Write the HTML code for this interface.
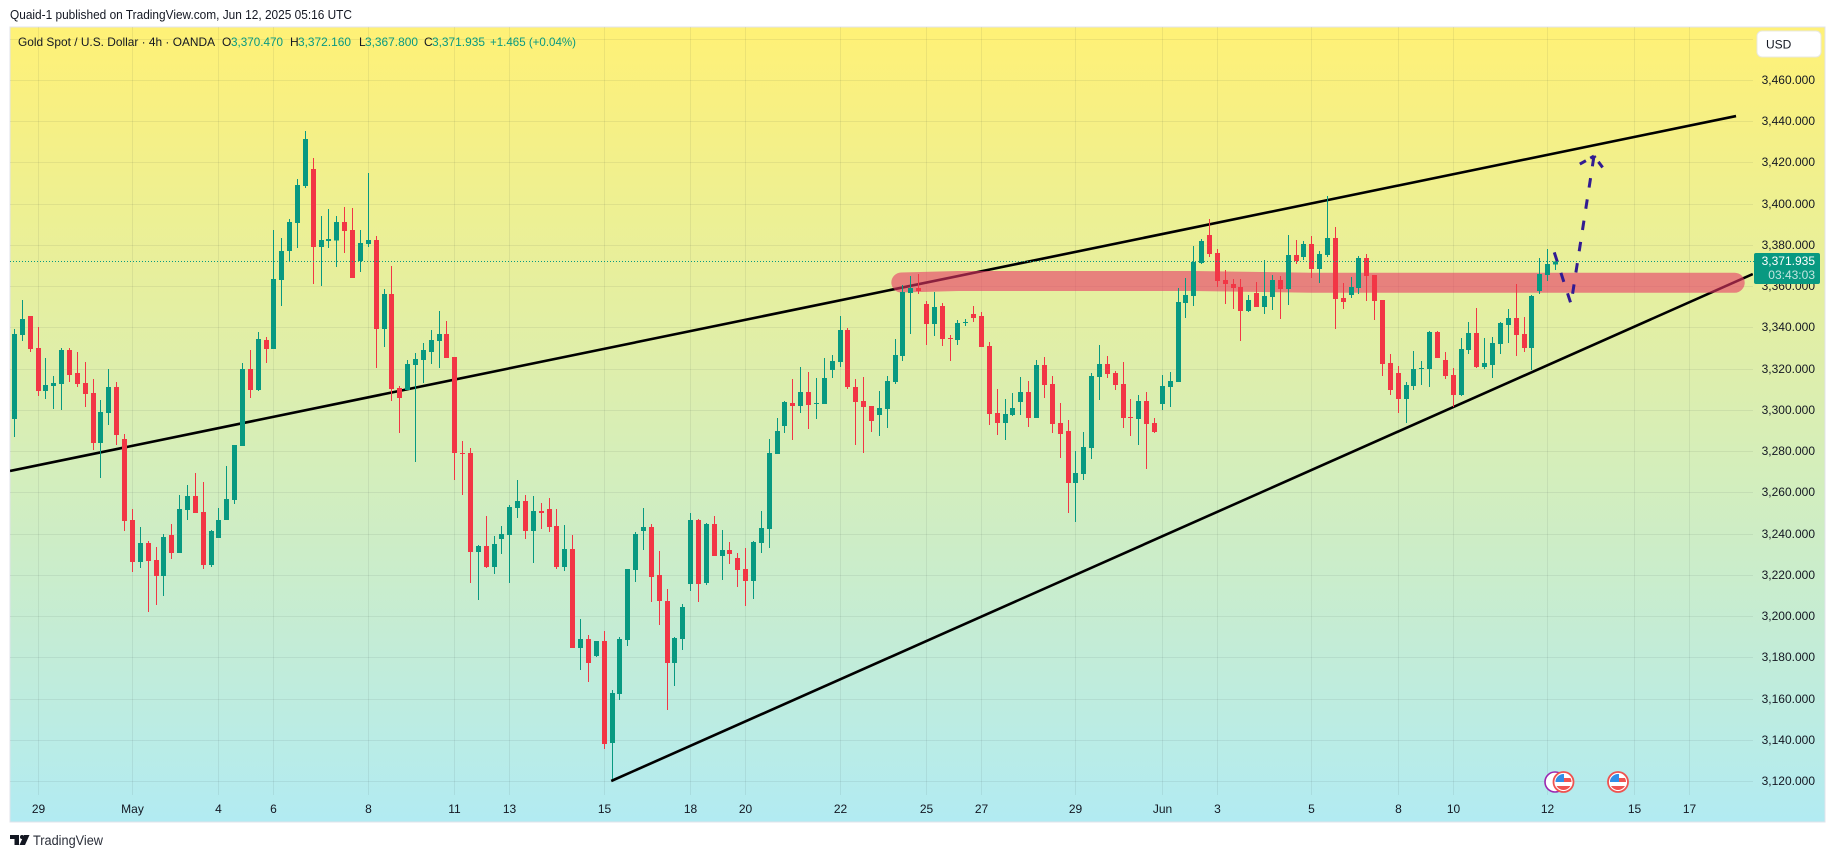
<!DOCTYPE html>
<html lang="en">
<head>
<meta charset="utf-8">
<title>Gold Spot / U.S. Dollar 4h chart</title>
<style>
  html, body { margin: 0; padding: 0; background: #ffffff; width: 1835px; height: 858px; overflow: hidden; }
  svg { display: block; font-family: "Liberation Sans", sans-serif; }
  text { font-family: "Liberation Sans", sans-serif; }
</style>
</head>
<body>
<svg id="chart" xmlns="http://www.w3.org/2000/svg" width="1835" height="858" viewBox="0 0 1835 858">
  <defs>
    <linearGradient id="paneGradient" x1="0" y1="0" x2="0" y2="1">
      <stop offset="0" stop-color="#FFF176"></stop>
      <stop offset="1" stop-color="#B2EBF2"></stop>
    </linearGradient>
    <clipPath id="plotClip"><rect x="10" y="27" width="1743" height="768"></rect></clipPath>
    <clipPath id="flagClipA"><circle cx="1563.5" cy="782" r="8"></circle></clipPath>
    <clipPath id="flagClipB"><circle cx="1618" cy="782" r="8"></circle></clipPath>
  </defs>

  <text x="10" y="19" font-size="12.5" fill="#131722" textLength="342" lengthAdjust="spacingAndGlyphs">Quaid-1 published on TradingView.com, Jun 12, 2025 05:16 UTC</text>

  <rect x="10" y="27" width="1815" height="795" fill="url(#paneGradient)" stroke="#e0e3eb" stroke-width="1"></rect>

  <g id="gridLayer"></g>
  <g id="drawLayer" clip-path="url(#plotClip)"></g>
  <g id="candleLayer" shape-rendering="crispEdges"></g>
  <g id="lastLayer"></g>
  <g id="timeLayer"></g>
  <g id="priceLayer"></g>

  <g font-size="12">
    <text x="18" y="46" fill="#131722" textLength="197" lengthAdjust="spacingAndGlyphs">Gold Spot / U.S. Dollar · 4h · OANDA</text>
    <text x="222" y="46" fill="#131722">O</text>
    <text x="231" y="46" fill="#089981" textLength="52" lengthAdjust="spacingAndGlyphs">3,370.470</text>
    <text x="290" y="46" fill="#131722">H</text>
    <text x="298" y="46" fill="#089981" textLength="53" lengthAdjust="spacingAndGlyphs">3,372.160</text>
    <text x="359" y="46" fill="#131722">L</text>
    <text x="365" y="46" fill="#089981" textLength="53" lengthAdjust="spacingAndGlyphs">3,367.800</text>
    <text x="424" y="46" fill="#131722">C</text>
    <text x="432" y="46" fill="#089981" textLength="53" lengthAdjust="spacingAndGlyphs">3,371.935</text>
    <text x="490" y="46" fill="#089981" textLength="86" lengthAdjust="spacingAndGlyphs">+1.465 (+0.04%)</text>
  </g>

  <g>
    <rect x="1757" y="31" width="64" height="26" rx="5" fill="#ffffff" stroke="#e8e8e0" stroke-width="1"></rect>
    <text x="1766" y="48.5" font-size="12" fill="#131722">USD</text>
  </g>

  <g>
    <circle cx="1555" cy="782" r="10" fill="#ffffff" stroke="#9c27b0" stroke-width="1.6"></circle>
    <g>
      <circle cx="1563.5" cy="782" r="10" fill="#ffffff" stroke="#ef5350" stroke-width="1.8"></circle>
      <g clip-path="url(#flagClipA)">
        <rect x="1555" y="778" width="17" height="4" fill="#ef5350"></rect>
        <rect x="1555" y="786" width="17" height="4" fill="#ef5350"></rect>
        <rect x="1555" y="774" width="9" height="8" fill="#2f8fe8"></rect>
      </g>
    </g>
    <g>
      <circle cx="1618" cy="782" r="10" fill="#ffffff" stroke="#ef5350" stroke-width="1.8"></circle>
      <g clip-path="url(#flagClipB)">
        <rect x="1609" y="778" width="18" height="4" fill="#ef5350"></rect>
        <rect x="1609" y="786" width="18" height="4" fill="#ef5350"></rect>
        <rect x="1609" y="774" width="10" height="8" fill="#2f8fe8"></rect>
      </g>
    </g>
  </g>

  <g>
    <path d="M10 835H19V845H14.5V839H10Z M19.5 845L24 835H29.5L25 845Z" fill="#131722"></path>
    <circle cx="22" cy="837" r="2" fill="#131722"></circle>
    <text x="33" y="845" font-size="13.5" fill="#2a2e39" textLength="70" lengthAdjust="spacingAndGlyphs">TradingView</text>
  </g>
</svg>

<script>
const opens = [
3295.5,3336.2,3345.4,3329.9,3309.1,3311.5,3312.5,3329,3317.8,3313,
3308.1,3283.9,3298.4,3311,3285.8,3246.5,3226.2,3235.4,3227.2,3219.4,
3239.3,3230.5,3251.4,3258.2,3250.4,3224.7,3237.8,3246.5,3256.2,3282.4,
3319.8,3309.6,3333.8,3329.4,3362.9,3376.9,3390.5,3408.4,3416.7,3378.9,
3381.8,3382.2,3391,3387.1,3372.1,3380.3,3382.2,3339.1,3356.1,3310.5,
3309.6,3321.7,3324.1,3328,3333.3,3336.7,3325.6,3279,3279,3231,
3233.9,3223.7,3237.3,3239.2,3252.3,3255.7,3241.2,3250.9,3251.8,3243.6,
3223.7,3232.4,3184.5,3188.8,3180.6,3187.8,3138.4,3162.2,3188.3,3222.3,
3241.2,3243.1,3219.8,3207.2,3177.2,3188.8,3215.5,3246.5,3216,3244.6,
3229.1,3232,3228.1,3222.8,3216.9,3235.4,3242.2,3278.6,3292.1,3303.3,
3301.8,3308.6,3302.8,3302.8,3319.3,3323.2,3338.7,3311,3304.2,3301.8,
3297.5,3300.4,3313.5,3326.1,3356.6,3359,3351.3,3341.6,3350.3,3334.8,
3333.8,3342.1,3346.4,3345.5,3330.9,3298.4,3293.6,3297.5,3303.8,3308.6,
3296,3321.7,3312.5,3293.6,3289.7,3264.5,3268.9,3281.5,3315.9,3322.2,
3317.8,3312.5,3296.5,3295.5,3304.2,3293.6,3302.8,3311,3313.5,3351.8,
3355.2,3371.1,3384.7,3376,3362.9,3361,3359.5,3347.9,3356.6,3349.8,
3354.7,3362.9,3358.5,3375,3374,3380.3,3368.2,3375,3383.2,3354.2,
3355.6,3359,3373.6,3365.3,3353.2,3322.7,3317.8,3305.2,3311.5,3319.8,
3319.8,3337.7,3324.1,3316.9,3307.2,3329,3337.2,3320.7,3321.7,3331.9,
3341.1,3344.5,3336.7,3330,3357.6,3365.3,3370.47
];
const highs = [
3339.1,3353.2,3345.4,3340.1,3325.1,3316.4,3329.9,3329.9,3328,3323.1,
3314.9,3304.7,3319.8,3313.5,3288.2,3251.9,3243.2,3236.4,3233.5,3239.8,
3244.6,3258.7,3263.5,3269.3,3265,3241.7,3252.4,3272.7,3282.9,3322.7,
3329,3337.7,3335.3,3387.1,3383.2,3392.4,3411.8,3435.1,3422,3393.9,
3397.3,3393.9,3398.2,3397.8,3387.1,3414.7,3384.2,3358.5,3369.6,3311.5,
3324.1,3327.5,3332.4,3338.7,3347.9,3343,3325.6,3284.9,3281.5,3234.4,
3248.4,3238.8,3243.6,3253.8,3265.9,3258.6,3258.1,3254.7,3257.2,3251.8,
3244.1,3239.2,3198.5,3190.8,3187.8,3192.7,3164.1,3189.8,3222.8,3240.7,
3252.3,3244.6,3231.5,3213.1,3189.8,3205.8,3249.9,3247,3245.1,3248.4,
3241.7,3235.8,3230.5,3232.9,3236.3,3250.9,3285.8,3296,3304.2,3314.9,
3320.7,3318.3,3315.4,3325.1,3326.5,3345.5,3339.6,3314.9,3315.9,3301.8,
3309.1,3316.4,3334.3,3360.5,3364.8,3365.8,3352.7,3357.1,3351.8,3336.2,
3343.5,3344,3350.3,3347.4,3332.9,3310.1,3305.2,3308.1,3315.9,3313.9,
3324.1,3325.6,3316.4,3303.3,3295,3280,3289.2,3317.8,3331.4,3326.1,
3318.8,3323.2,3305.2,3307.2,3308.6,3296,3316.9,3318.3,3359,3363.9,
3379.4,3382.7,3392.4,3377.9,3367.8,3363.4,3363.4,3355.6,3361.9,3372.6,
3365.3,3364.8,3384.7,3382.3,3381.8,3384.2,3376.9,3403.6,3388.6,3361.5,
3364.4,3374.6,3375.5,3365.3,3353.2,3327,3321.2,3313.5,3328.5,3323.7,
3338.2,3338.2,3328,3320.3,3334.8,3342.6,3349.4,3334.8,3335.3,3342.6,
3348.9,3361,3345,3355.6,3373.6,3377.9,3372.16
];
const lows = [
3286.9,3333.3,3328,3306.7,3305.2,3300.4,3299.9,3313.5,3311,3301.3,
3280.5,3266.9,3292.6,3282.9,3241.2,3221.3,3223.3,3201.9,3205.3,3209.7,
3227.6,3230.5,3246.5,3249.9,3222.8,3223.8,3237.8,3246.5,3254.3,3282.4,
3305.7,3309.1,3322.7,3329.4,3350.3,3371.6,3378.4,3407.5,3360.9,3359.9,
3378.4,3369.2,3375.9,3363.8,3366.7,3378.9,3320.2,3330.4,3304.2,3288.7,
3309.6,3274.7,3313,3322.2,3320.2,3325.1,3265.9,3258.7,3216,3207.7,
3223.2,3220.3,3230,3216,3247.5,3237.3,3225.7,3242.1,3240.7,3222.8,
3221.8,3184.5,3173.8,3168,3180.1,3135.5,3120.9,3159.2,3185.4,3216.5,
3232,3206.8,3195.6,3154.4,3166,3183.5,3212.1,3206.8,3215,3229.1,
3217.4,3225.2,3214,3204.8,3208.2,3230.5,3233,3278.6,3288.7,3285.3,
3298.4,3290.7,3295.5,3302.8,3315.4,3320.7,3310.1,3282.9,3279,3289.2,
3287.3,3291.2,3312.5,3323.6,3336.7,3356.1,3331.4,3335.8,3330.9,3323.6,
3331.4,3340.6,3342.5,3330.4,3292.6,3287.8,3285.3,3297,3297.5,3291.6,
3296,3305.7,3288.7,3276.6,3249.9,3245.6,3265.9,3276.1,3304.7,3315.4,
3309.6,3291.2,3287.3,3282.9,3271.3,3288.7,3299.9,3301.3,3313.5,3344.5,
3350.3,3370.6,3374,3359.5,3351.3,3348.8,3333.3,3347.4,3349.8,3346.4,
3348.4,3344,3350.8,3370.6,3372.6,3363.9,3361.5,3374.1,3339.2,3348.9,
3354.2,3356.1,3352.7,3343.5,3316.4,3307.2,3298.4,3293.6,3309.6,3312,
3311,3325.1,3314.9,3301.4,3306.7,3327,3320.3,3319.8,3315.4,3327,
3332.4,3326.1,3328,3319.3,3356.1,3362.4,3367.8
];
const closes = [
3336.7,3344,3329.4,3309.1,3312,3313,3329,3316.8,3312.5,3307.6,
3283.9,3298.9,3311,3287.8,3246.1,3226.2,3235.4,3226.7,3219.4,3238.3,
3230.5,3251.9,3258.2,3249.9,3224.7,3241.2,3246.5,3256.7,3282.9,3319.8,
3309.6,3334.3,3329.4,3363.3,3376.9,3391,3408.9,3431.2,3378.9,3382.2,
3382.7,3391,3386.6,3363.8,3380.8,3382.2,3339.1,3356.1,3310,3305.7,
3322.2,3324.6,3329,3333.8,3336.7,3325.1,3279,3278.6,3231,3233.9,
3223.7,3234.9,3239.7,3252.8,3255.7,3241.2,3250.9,3249.9,3243.1,3223.7,
3232.4,3184.5,3188.8,3177.2,3187.8,3137.9,3162.6,3188.8,3222.8,3239.7,
3243.1,3218.9,3207.2,3177.2,3189.3,3204.3,3246.5,3215.5,3244.6,3229.1,
3232,3230,3222.3,3216.9,3235.8,3242.6,3279,3289.7,3303.8,3301.8,
3308.6,3302.3,3303.3,3315.4,3323.6,3338.7,3311,3303.8,3301.3,3294.5,
3300.8,3313.9,3326.5,3357.1,3359,3357.6,3341.6,3349.8,3334.3,3334.3,
3342.1,3342.5,3344.5,3330.4,3297.9,3293.6,3297.9,3300.9,3308.6,3296,
3321.7,3312,3293.1,3288.3,3264.5,3269.3,3281.9,3316.4,3322.2,3317.3,
3312,3296,3296,3304.2,3293.1,3289.2,3311.5,3313.9,3352.2,3355.6,
3371.6,3381.8,3375.5,3362.4,3361,3359,3347.9,3353.2,3349.8,3355.2,
3362.9,3358.5,3375,3372.1,3380.3,3368.2,3375.5,3383.2,3353.7,3352.3,
3359.5,3373.6,3364.9,3352.7,3322.2,3309.6,3305.2,3312,3319.8,3320.3,
3337.7,3325.1,3316.4,3307.2,3329.5,3337.2,3320.7,3322.7,3332.4,3342.1,
3344.5,3336.3,3330,3355.2,3365.8,3370.7,3371.935
];

const priceTicks = [3480,3460,3440,3420,3400,3380,3360,3340,3320,3300,3280,3260,3240,3220,3200,3180,3160,3140,3120];
const timeTickBars = [3,15,26,33,45,56,63,75,86,93,105,116,123,135,146,153,165,176,183,195,206,213];
const timeTickLabels = ["29","May","4","6","8","11","13","15","18","20","22","25","27","29","Jun","3","5","8","10","12","15","17"];
const lastPrice = 3371.935;
const lastPriceText = "3,371.935";
const countdownText = "03:43:03";

const upperTrendBars = [-0.57, 218.97];
const upperTrendPrices = [3270.3, 3442.4];
const lowerTrendBars = [75.9, 221.1];
const lowerTrendPrices = [3120, 3365.8];
const zoneBars = [112.8, 120, 150, 165, 218.8];
const zonePrices = [3361.7, 3362.4, 3362.4, 3361.6, 3361.6];
const forecastBars = [195.85, 197.98, 200.9];
const forecastPrices = [3376.3, 3351.3, 3423];
const arrowWingBars = [199.1, 202.0];
const arrowWingPrices = [3419.1, 3417.5];

function xOf(i) { return 14.5 + 7.862 * i; }
function yOf(p) { return 781 - (p - 3120) * 2.0625; }

const NS = 'http://www.w3.org/2000/svg';
function make(tag, attrs, parent) {
  const el = document.createElementNS(NS, tag);
  for (const k in attrs) el.setAttribute(k, attrs[k]);
  parent.appendChild(el);
  return el;
}
function pointsOf(bars, prices) {
  return bars.map(function (b, i) { return xOf(b).toFixed(2) + ',' + yOf(prices[i]).toFixed(2); }).join(' ');
}

const gridLayer = document.getElementById('gridLayer');
const drawLayer = document.getElementById('drawLayer');
const candleLayer = document.getElementById('candleLayer');
const lastLayer = document.getElementById('lastLayer');
const timeLayer = document.getElementById('timeLayer');
const priceLayer = document.getElementById('priceLayer');

priceTicks.forEach(function (p) {
  const y = Math.round(yOf(p)) + 0.5;
  const line = make('line', { x1: 10, x2: 1753, y1: y, y2: y, stroke: 'rgba(42,46,57,0.08)', 'stroke-width': 1 }, gridLayer);
  
  
  if (p < 3480) {
    const label = make('text', { x: 1815, y: y + 3.5, 'text-anchor': 'end', 'font-size': 12, fill: '#131722' }, priceLayer);
    
    
    label.textContent = p.toLocaleString('en-US') + '.000';
  }
});

timeTickBars.forEach(function (b, i) {
  const x = Math.floor(xOf(b)) + 0.5;
  const line = make('line', { x1: x, x2: x, y1: 27, y2: 795, stroke: 'rgba(42,46,57,0.08)', 'stroke-width': 1 }, gridLayer);
  
  
  const label = make('text', { x: x, y: 813, 'text-anchor': 'middle', 'font-size': 12, fill: '#131722' }, timeLayer);
  
  
  label.textContent = timeTickLabels[i];
});

const upperTrend = make('polyline', { points: pointsOf(upperTrendBars, upperTrendPrices), fill: 'none', stroke: '#000000', 'stroke-width': 2.6 }, drawLayer);



const lowerTrend = make('polyline', { points: pointsOf(lowerTrendBars, lowerTrendPrices), fill: 'none', stroke: '#000000', 'stroke-width': 2.6 }, drawLayer);



const zone = make('polyline', { points: pointsOf(zoneBars, zonePrices), fill: 'none', stroke: 'rgb(231,55,104)', 'stroke-opacity': 0.6, 'stroke-width': 20, 'stroke-linecap': 'round', 'stroke-linejoin': 'round' }, drawLayer);



const forecast = make('polyline', { points: pointsOf(forecastBars, forecastPrices), fill: 'none', stroke: '#311b92', 'stroke-width': 3, 'stroke-dasharray': '9.5 12' }, drawLayer);



arrowWingBars.forEach(function (b, i) {
  const tipBar = forecastBars[forecastBars.length - 1];
  const tipPrice = forecastPrices[forecastPrices.length - 1];
  const wing = make('polyline', { points: pointsOf([b, tipBar], [arrowWingPrices[i], tipPrice]), fill: 'none', stroke: '#311b92', 'stroke-width': 3, 'stroke-dasharray': '7 5' }, drawLayer);
  
  
});

opens.forEach(function (o, i) {
  const h = highs[i], l = lows[i], c = closes[i];
  const color = c >= o ? '#089981' : '#F23645';
  const px = Math.floor(xOf(i));
  const g = make('g', {}, candleLayer);
  
  
  const top = yOf(h), bottom = yOf(l);
  const wick = make('rect', { x: px, y: top.toFixed(1), width: 1, height: Math.max(1, bottom - top).toFixed(1), fill: color }, g);
  
  
  const bt = yOf(Math.max(o, c)), bb = yOf(Math.min(o, c));
  const body = make('rect', { x: px - 2, y: bt.toFixed(1), width: 5, height: Math.max(1, bb - bt).toFixed(1), fill: color }, g);
  
  
});

const lastY = Math.round(yOf(lastPrice)) + 0.5;
const lastLine = make('line', { x1: 10, x2: 1754, y1: lastY, y2: lastY, stroke: '#089981', 'stroke-width': 1, 'stroke-dasharray': '1 2' }, lastLayer);



const lastBox = make('rect', { x: 1754, y: lastY - 8.5, width: 66, height: 31, rx: 2, fill: '#089981' }, priceLayer);



const lastLabel = make('text', { x: 1815, y: lastY + 3.5, 'text-anchor': 'end', 'font-size': 12, fill: '#ffffff' }, priceLayer);


lastLabel.textContent = lastPriceText;

const countdown = make('text', { x: 1815, y: lastY + 17.5, 'text-anchor': 'end', 'font-size': 12, fill: 'rgba(255,255,255,0.75)' }, priceLayer);


countdown.textContent = countdownText;
</script>
</body>
</html>
